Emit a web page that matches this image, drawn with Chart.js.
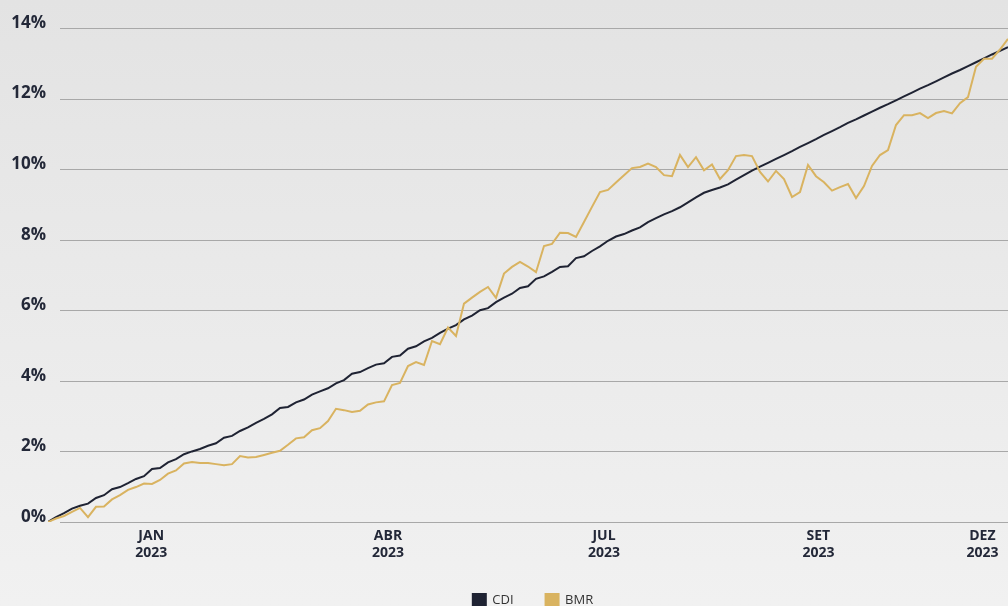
<!DOCTYPE html>
<html>
<head>
<meta charset="utf-8">
<script src="https://cdn.jsdelivr.net/npm/chart.js@4.4.1/dist/chart.umd.min.js"></script>
<style>
  html, body { margin: 0; padding: 0; overflow: hidden; }
  body { width: 1008px; height: 606px; background: linear-gradient(to bottom, #e3e3e3 0%, #f1f1f1 100%); }
  #wrap { position: relative; width: 1008px; height: 617px; }
</style>
</head>
<body>
<div id="wrap"><canvas id="chart"></canvas></div>
<script>
'use strict';

// accumulated return, % (one point every ~2 trading days)
let cdi = [
  0, 0.14, 0.25, 0.38, 0.46, 0.52, 0.68, 0.76, 0.93, 0.99,
  1.10, 1.22, 1.30, 1.50, 1.53, 1.69, 1.78, 1.92, 2.00, 2.07,
  2.16, 2.23, 2.39, 2.44, 2.58, 2.68, 2.81, 2.92, 3.05, 3.23,
  3.26, 3.39, 3.47, 3.61, 3.70, 3.79, 3.93, 4.02, 4.20, 4.25,
  4.36, 4.46, 4.50, 4.68, 4.72, 4.91, 4.98, 5.12, 5.22, 5.36,
  5.48, 5.58, 5.74, 5.85, 6.00, 6.06, 6.23, 6.36, 6.47, 6.63,
  6.68, 6.89, 6.96, 7.09, 7.23, 7.25, 7.48, 7.53, 7.68, 7.81,
  7.97, 8.09, 8.16, 8.26, 8.35, 8.50, 8.61, 8.72, 8.81, 8.92,
  9.06, 9.20, 9.33, 9.41, 9.48, 9.57, 9.70, 9.83, 9.96, 10.07,
  10.18, 10.29, 10.40, 10.51, 10.63, 10.74, 10.85, 10.97, 11.08, 11.19,
  11.31, 11.41, 11.52, 11.63, 11.74, 11.84, 11.95, 12.06, 12.17, 12.28,
  12.38, 12.49, 12.60, 12.71, 12.81, 12.92, 13.03, 13.14, 13.25, 13.35,
  13.46
];

let bmr = [
  0, 0.10, 0.17, 0.29, 0.40, 0.14, 0.43, 0.44, 0.64, 0.76,
  0.91, 0.99, 1.09, 1.08, 1.19, 1.37, 1.46, 1.66, 1.70, 1.67,
  1.67, 1.64, 1.61, 1.64, 1.87, 1.83, 1.84, 1.90, 1.96, 2.02,
  2.19, 2.37, 2.40, 2.60, 2.66, 2.86, 3.21, 3.17, 3.12, 3.15,
  3.33, 3.39, 3.42, 3.88, 3.94, 4.42, 4.53, 4.45, 5.13, 5.04,
  5.51, 5.27, 6.19, 6.36, 6.52, 6.66, 6.35, 7.04, 7.23, 7.37,
  7.24, 7.08, 7.82, 7.88, 8.20, 8.19, 8.08, 8.50, 8.93, 9.35,
  9.41, 9.62, 9.83, 10.03, 10.06, 10.16, 10.06, 9.83, 9.80, 10.40,
  10.06, 10.34, 9.97, 10.13, 9.72, 9.97, 10.37, 10.40, 10.37, 9.92,
  9.65, 9.95, 9.72, 9.21, 9.35, 10.12, 9.80, 9.63, 9.39, 9.49,
  9.58, 9.18, 9.52, 10.09, 10.40, 10.54, 11.25, 11.53, 11.53, 11.59,
  11.45, 11.59, 11.65, 11.58, 11.87, 12.04, 12.90, 13.13, 13.13, 13.39,
  13.69
];

// where the month labels sit, in point index units
let tickPos = [12.9, 42.5, 69.5, 96.3, 116.8];
let tickLabels = [['JAN', '2023'], ['ABR', '2023'], ['JUL', '2023'], ['SET', '2023'], ['DEZ', '2023']];
let yTicks = [0, 2, 4, 6, 8, 10, 12, 14];

let inkColor = '#232838';
let cdiColor = '#1f2333';
let bmrColor = '#d9b360';

function toPoints(arr) {
  let pts = [];
  for (let i = 0; i < arr.length; i++) {
    pts.push({ x: i, y: arr[i] });
  }
  return pts;
}

// grid lines start a bit right of the plot's left edge, like the original
let gridLines = {
  id: 'gridLines',
  afterLayout(chart) {
    // nudge the legend a little to the right
    chart.legend.left += 5;
    chart.legend.right += 5;
  },
  beforeDatasetsDraw(chart) {
    let ctx = chart.ctx;
    let area = chart.chartArea;
    let y = chart.scales.y;
    ctx.save();
    ctx.strokeStyle = '#a8a8a8';
    ctx.lineWidth = 1;
    y.ticks.forEach(function (t) {
      let py = Math.round(y.getPixelForValue(t.value)) + 0.5;
      ctx.beginPath();
      ctx.moveTo(area.left + 12, py);
      ctx.lineTo(area.right, py);
      ctx.stroke();
    });
    ctx.restore();
  }
};

let chartData = {
  type: 'line',
  data: {
    datasets: [{
      label: 'CDI',
      data: toPoints(cdi),
      borderColor: cdiColor,
      backgroundColor: cdiColor,
      borderWidth: 2,
      pointRadius: 0,
      order: 1
    }, {
      label: 'BMR',
      data: toPoints(bmr),
      borderColor: bmrColor,
      backgroundColor: bmrColor,
      borderWidth: 2,
      pointRadius: 0,
      order: 0
    }]
  },
  options: {
    responsive: true,
    maintainAspectRatio: false,
    animation: false,
    layout: { padding: { top: 28, right: 0, left: 0, bottom: 0 } },
    plugins: {
      tooltip: { enabled: false },
      legend: {
        position: 'bottom',
        fullSize: false,
        labels: {
          boxWidth: 13,
          boxHeight: 13,
          padding: 32,
          color: '#333333',
          font: { family: 'Open Sans', size: 13 },
          sort: function (a, b) { return a.datasetIndex - b.datasetIndex; }
        }
      }
    },
    scales: {
      x: {
        type: 'linear',
        min: 0,
        max: cdi.length - 1,
        grid: { display: false, drawTicks: false, tickLength: 0 },
        border: { display: false },
        afterFit: function (scale) { scale.height = 40; },
        afterBuildTicks: function (scale) {
          scale.ticks = tickPos.map(function (v) { return { value: v }; });
        },
        ticks: {
          autoSkip: false,
          maxRotation: 0,
          padding: 6,
          color: inkColor,
          font: { family: 'Open Sans', size: 14, weight: 'bold', lineHeight: 1.2 },
          callback: function (value, index) { return tickLabels[index]; }
        }
      },
      y: {
        min: 0,
        max: 14,
        grid: { display: false, drawTicks: false, tickLength: 0 },
        border: { display: false },
        afterFit: function (scale) { scale.width = 48; },
        afterBuildTicks: function (scale) {
          scale.ticks = yTicks.map(function (v) { return { value: v }; });
        },
        ticks: {
          padding: 2,
          color: inkColor,
          font: { family: 'Open Sans', size: 17, weight: 'bold', lineHeight: '10px' },
          callback: function (value) { return [value + '%', '']; }
        }
      }
    }
  },
  plugins: [gridLines]
};

let ctx = document.getElementById('chart');
new Chart(ctx, chartData);
</script>
</body>
</html>
